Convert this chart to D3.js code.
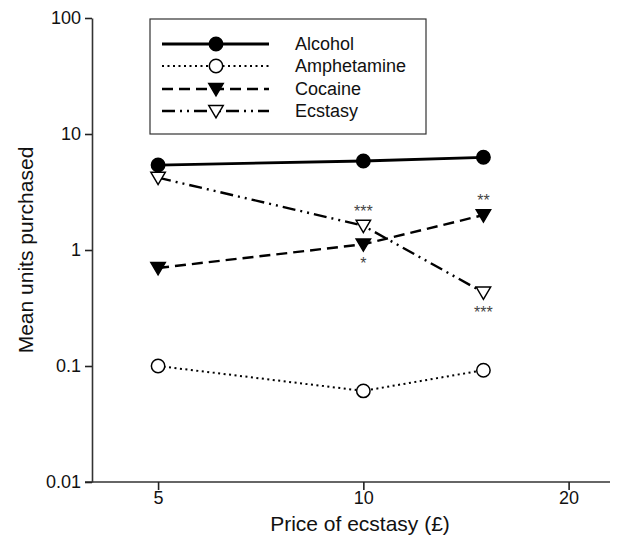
<!DOCTYPE html>
<html><head><meta charset="utf-8">
<script src="https://cdn.jsdelivr.net/npm/d3@7"></script>
<style>body{margin:0;background:#fff}svg{display:block;font-family:"Liberation Sans",Arial,sans-serif}</style>
</head><body><svg id="c" width="635" height="540"></svg>
<script>
const prices = [5, 10, 15];
const seriesNames = ["Alcohol", "Amphetamine", "Cocaine", "Ecstasy"];
const alcohol = [5.4, 5.85, 6.3];
const amphetamine = [0.1, 0.061, 0.092];
const cocaine = [0.70, 1.12, 2.0];
const ecstasy = [4.2, 1.62, 0.43];
const xTicks = [5, 10, 20];
const yTicks = [0.01, 0.1, 1, 10, 100];
const yTickLabels = ["0.01", "0.1", "1", "10", "100"];
// significance marks: [series, price index, label, position]
const sigSeries = ["Ecstasy", "Cocaine", "Cocaine", "Ecstasy"];
const sigIndex = [1, 1, 2, 2];
const sigLabels = ["***", "*", "**", "***"];
const sigSide = ["above", "below", "above", "below"];

const values = {Alcohol: alcohol, Amphetamine: amphetamine, Cocaine: cocaine, Ecstasy: ecstasy};
const styles = {
  Alcohol: {dash: null, width: 2.8, marker: "circle", fill: "#000"},
  Amphetamine: {dash: "2,3.5", width: 2, marker: "circle", fill: "#fff"},
  Cocaine: {dash: "11,6", width: 2.4, marker: "tri", fill: "#000"},
  Ecstasy: {dash: "13,5,2,5,2,5", width: 2.4, marker: "tri", fill: "#fff"}
};

const svg = d3.select("#c");
const x = d3.scaleLog().domain([4, 23]).range([92, 610]);
const y = d3.scaleLog().domain([0.01, 100]).range([482, 18]);

// axes
const xAxis = svg.append("g").attr("transform", "translate(0,482)")
  .call(d3.axisBottom(x).tickValues(xTicks).tickFormat(d3.format("d")).tickSize(8).tickSizeOuter(0));
xAxis.select(".domain").attr("d", `M85,0H${x.range()[1]}`);
const yAxis = svg.append("g").attr("transform", "translate(92,0)")
  .call(d3.axisLeft(y).tickValues(yTicks).tickFormat((d, i) => yTickLabels[i]).tickSize(7).tickSizeOuter(0));
[xAxis, yAxis].forEach(a => {
  a.selectAll(".domain").attr("stroke", "#333").attr("stroke-width", 1.6);
  a.selectAll(".tick line").attr("stroke", "#222").attr("stroke-width", 1.6);
  a.selectAll(".tick text").attr("fill", "#111").attr("font-size", 18).attr("font-family", "Liberation Sans, Arial, sans-serif");
});
xAxis.selectAll(".tick text").attr("y", 9).attr("dy", "0.71em");
yAxis.selectAll(".tick text").attr("x", -11);

svg.append("text").attr("x", 360).attr("y", 531).attr("text-anchor", "middle")
  .attr("font-size", 21).attr("fill", "#111").text("Price of ecstasy (£)");
svg.append("text").attr("transform", "translate(33,250) rotate(-90)").attr("text-anchor", "middle")
  .attr("font-size", 21).attr("fill", "#111").text("Mean units purchased");

function marker(g, type, fill, cx, cy) {
  if (type === "circle") {
    g.append("circle").attr("cx", cx).attr("cy", cy).attr("r", 6.7)
      .attr("fill", fill).attr("stroke", "#000").attr("stroke-width", 1.5);
  } else {
    const s = 7.2;
    g.append("path").attr("d", `M${cx - s},${cy - s * 0.75}L${cx + s},${cy - s * 0.75}L${cx},${cy + s * 0.95}Z`)
      .attr("fill", fill).attr("stroke", "#000").attr("stroke-width", 1.5).attr("stroke-linejoin", "miter");
  }
}

const line = d3.line().x((d, i) => x(prices[i])).y(d => y(d));
seriesNames.forEach(name => {
  const st = styles[name];
  const g = svg.append("g");
  g.append("path").datum(values[name]).attr("d", line).attr("fill", "none")
    .attr("stroke", "#000").attr("stroke-width", st.width).attr("stroke-dasharray", st.dash);
  values[name].forEach((v, i) => marker(g, st.marker, st.fill, x(prices[i]), y(v)));
});

sigLabels.forEach((lab, k) => {
  const v = values[sigSeries[k]][sigIndex[k]];
  const cy = y(v);
  svg.append("text").attr("x", x(prices[sigIndex[k]])).attr("y", sigSide[k] === "above" ? cy - 9 : cy + 25)
    .attr("text-anchor", "middle").attr("font-size", 16).attr("fill", "#444").text(lab);
});

// legend
const lg = svg.append("g");
lg.append("rect").attr("x", 150).attr("y", 19).attr("width", 276).attr("height", 115)
  .attr("fill", "#fff").attr("stroke", "#333").attr("stroke-width", 1.2);
const rowY = [44, 66, 89, 111];
seriesNames.forEach((name, i) => {
  const st = styles[name];
  lg.append("line").attr("x1", 162).attr("x2", 269).attr("y1", rowY[i]).attr("y2", rowY[i])
    .attr("stroke", "#000").attr("stroke-width", st.width).attr("stroke-dasharray", st.dash);
  marker(lg, st.marker, st.fill, 216, rowY[i]);
  lg.append("text").attr("x", 295).attr("y", rowY[i] + 6).attr("font-size", 18).attr("fill", "#111").text(name);
});
</script></body></html>
